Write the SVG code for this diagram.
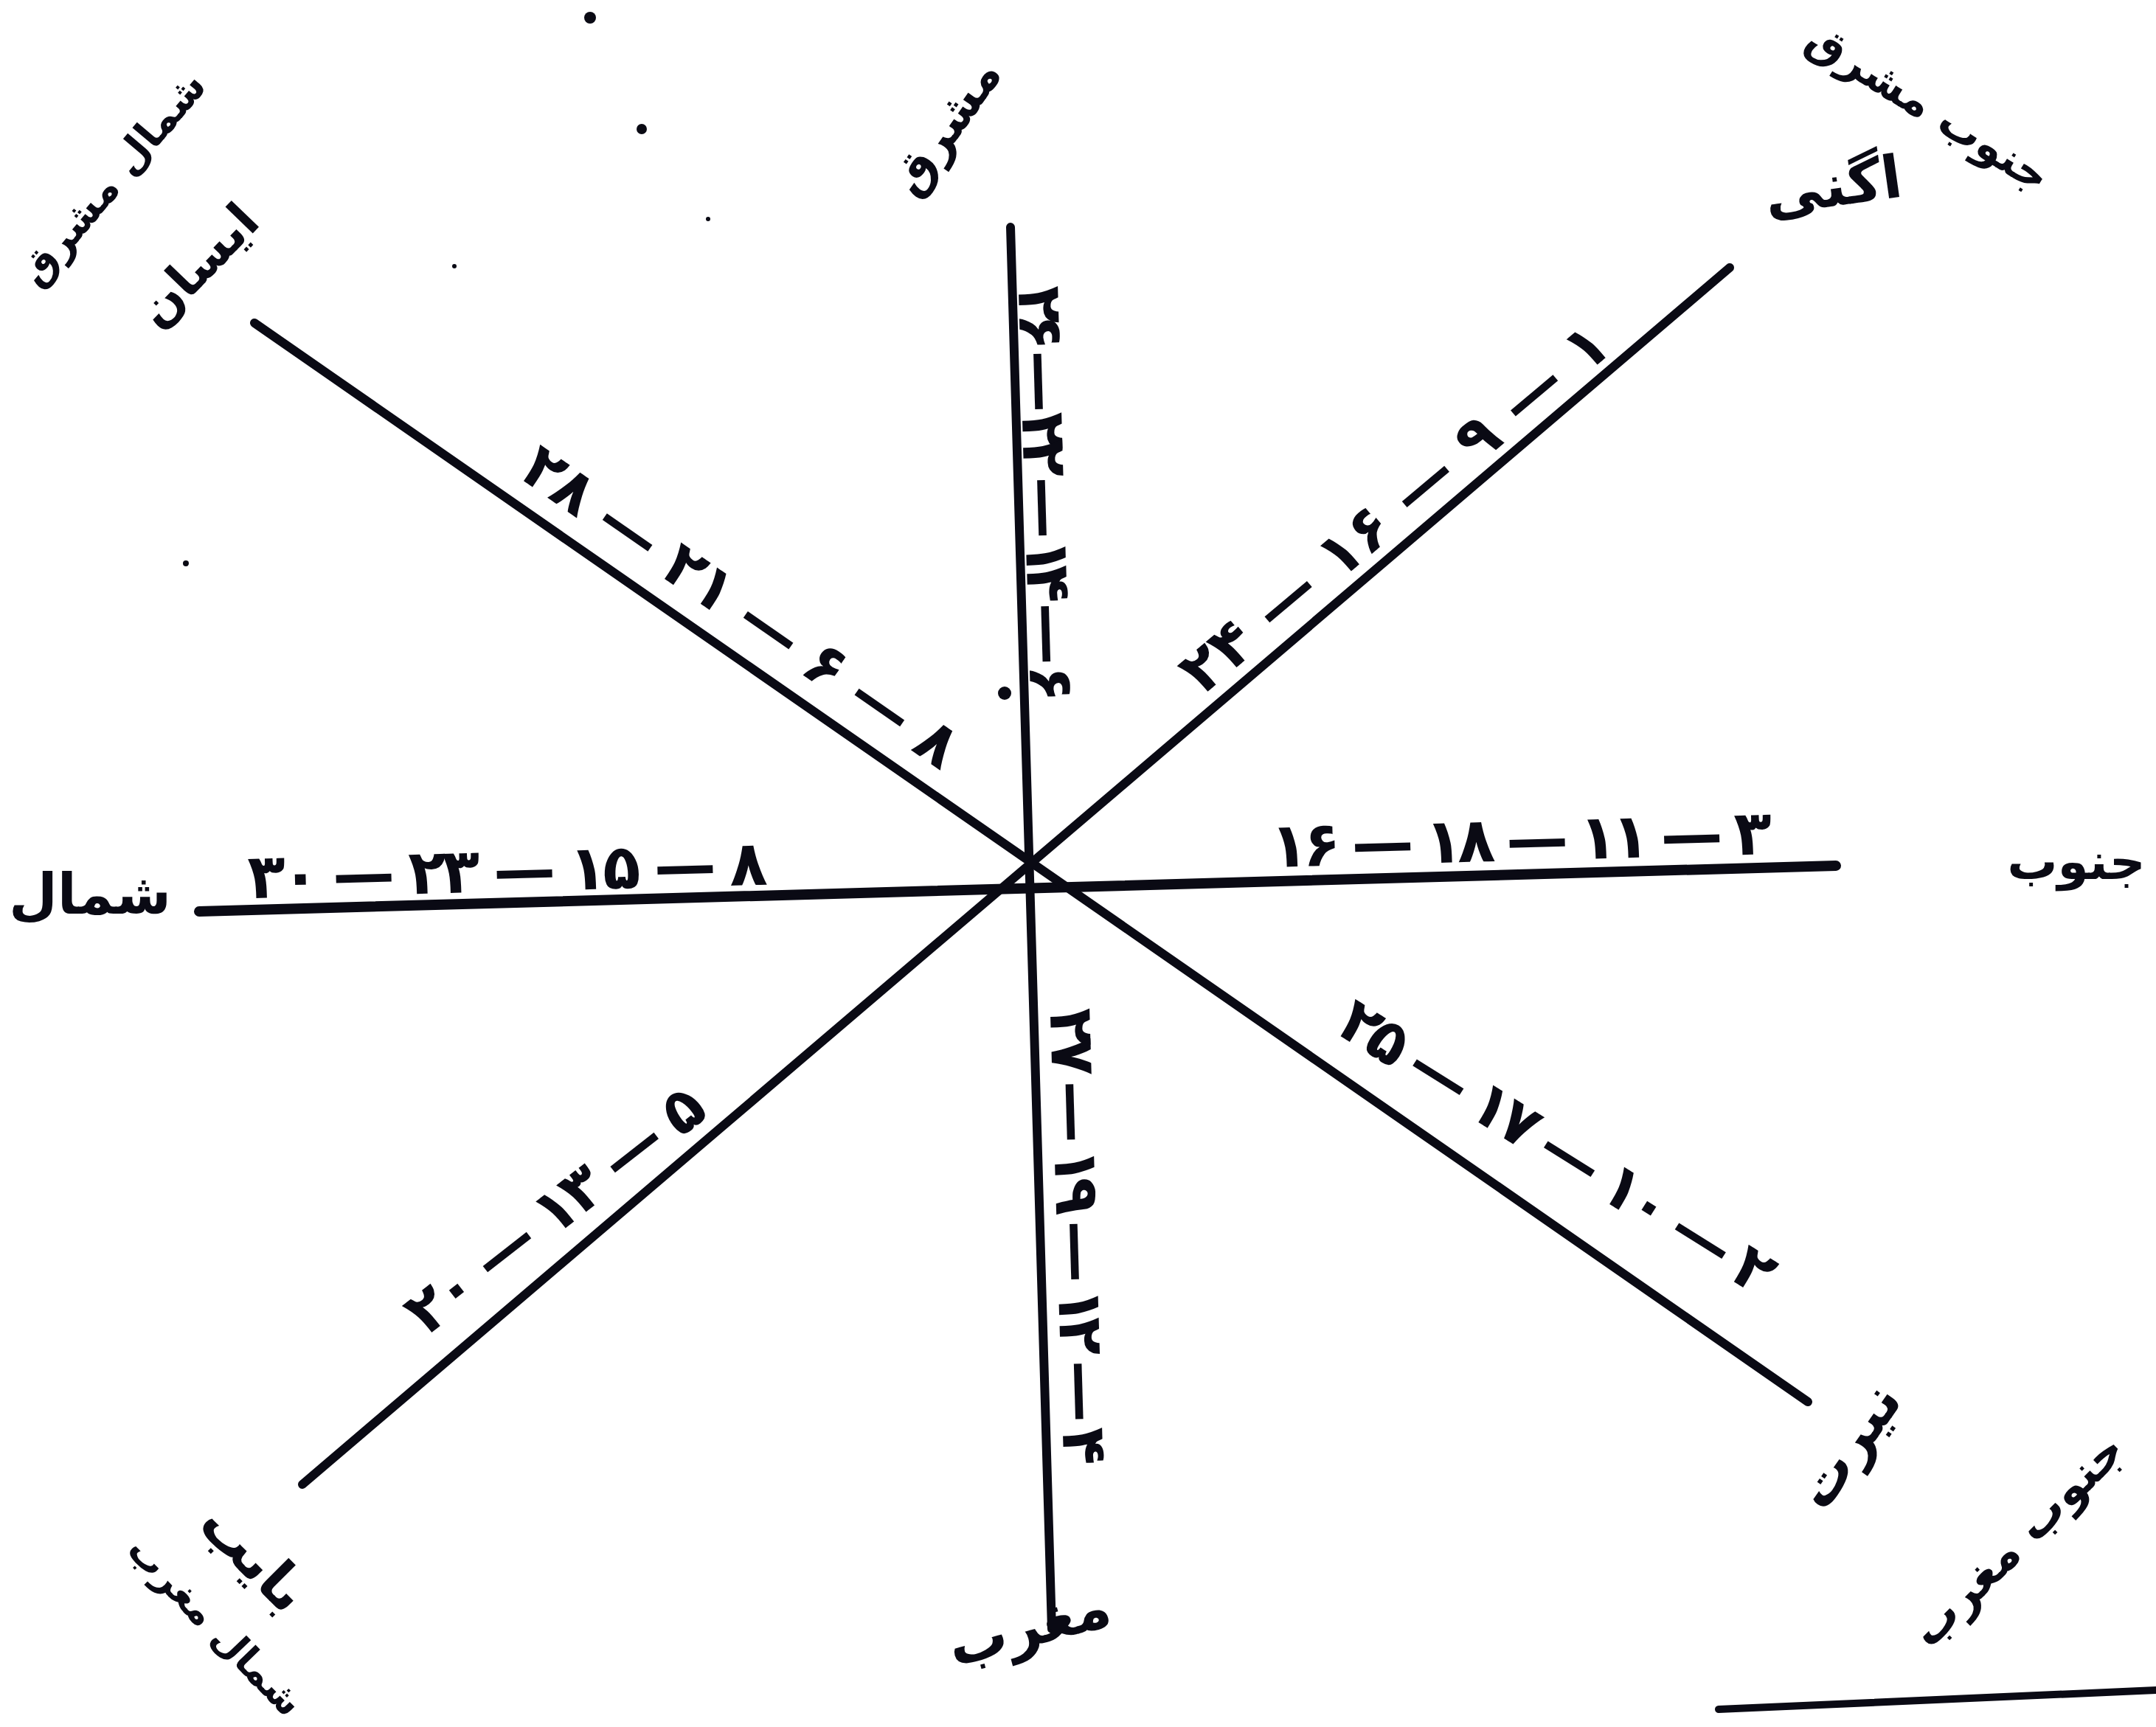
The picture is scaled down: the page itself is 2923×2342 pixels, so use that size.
<svg xmlns="http://www.w3.org/2000/svg" width="2923" height="2342" viewBox="0 0 2923 2342">
<style>
.ln{stroke:#0a0a14;stroke-width:12;stroke-linecap:round;fill:none}
.lbl{font-family:"DejaVu Sans","Noto Sans",sans-serif;font-weight:bold;fill:#0a0a14;text-anchor:middle;dominant-baseline:central}
.num{font-family:"DejaVu Sans","Noto Sans",sans-serif;font-weight:bold;fill:#0a0a14;text-anchor:middle;dominant-baseline:central;font-size:84px}
.dot{fill:#0a0a14}
</style>
<rect width="2923" height="2342" fill="#ffffff"/>
<g id="connectors">
  <line class="ln" x1="1370" y1="308" x2="1426" y2="2209"/>
  <line class="ln" x1="270" y1="1236" x2="2489" y2="1174" style="stroke-width:14"/>
  <line class="ln" x1="345" y1="438" x2="2451" y2="1901"/>
  <line class="ln" x1="410" y1="2013" x2="2345" y2="363"/>
  <line class="ln" x1="2330" y1="2318" x2="2923" y2="2292" style="stroke-width:10"/>
</g>
<g id="label-north-east">
  <text class="lbl" font-size="56" transform="translate(152,242) rotate(-50)">شمال مشرق</text>
  <text class="lbl" font-size="68" transform="translate(268,360) rotate(-46)">ایسان</text>
</g>
<g id="label-east"><text class="lbl" font-size="66" transform="translate(1282,172) rotate(-55)">مشرق</text></g>
<g id="label-south-east">
  <text class="lbl" font-size="60" transform="translate(2615,145) rotate(32)">جنوب مشرق</text>
  <text class="lbl" font-size="80" transform="translate(2485,252) rotate(-8)">اگنی</text>
</g>
<g id="label-north"><text class="lbl" font-size="76" transform="translate(122,1212)">شمال</text></g>
<g id="label-south"><text class="lbl" font-size="68" transform="translate(2815,1168)">جنوب</text></g>
<g id="label-west"><text class="lbl" font-size="80" transform="translate(1395,2205) rotate(-15)">مغرب</text></g>
<g id="label-north-west">
  <text class="lbl" font-size="78" transform="translate(345,2112) rotate(45)">بایب</text>
  <text class="lbl" font-size="52" transform="translate(292,2205) rotate(46)">شمال مغرب</text>
</g>
<g id="label-south-west">
  <text class="lbl" font-size="78" transform="translate(2505,1960) rotate(-55)">نیرت</text>
  <text class="lbl" font-size="64" transform="translate(2735,2088) rotate(-45)">جنوب مغرب</text>
</g>
<g id="nums-north-east"><text class="num" textLength="700" lengthAdjust="spacing" transform="translate(1005,822) rotate(34.8)">۲۸ — ۲۱ — ۶ — ۸</text></g>
<g id="nums-south-east"><text class="num" textLength="730" lengthAdjust="spacing" transform="translate(1890,688) rotate(-40)">۲۴ — ۱۶ — ۹ — ۱</text></g>
<g id="nums-north"><text class="num" textLength="705" lengthAdjust="spacing" transform="translate(688,1180) rotate(-1.5)">۳۰ — ۲۳ — ۱۵ — ۸</text></g>
<g id="nums-south"><text class="num" textLength="680" lengthAdjust="spacing" transform="translate(2062,1138) rotate(-1.5)">۱۶ — ۱۸ — ۱۱ — ۳</text></g>
<g id="nums-south-west"><text class="num" textLength="680" lengthAdjust="spacing" transform="translate(2112,1555) rotate(32)">۲۵ — ۱۷ — ۱۰ — ۲</text></g>
<g id="nums-north-west"><text class="num" textLength="490" lengthAdjust="spacing" transform="translate(752,1640) rotate(-38)">۲۰ — ۱۳ — ۵</text></g>
<g id="nums-east"><text class="num" textLength="565" lengthAdjust="spacing" transform="translate(1418,670) rotate(88.3)">۲۶ — ۲۲ — ۱۴ — ۶</text></g>
<g id="nums-west"><text class="num" textLength="620" lengthAdjust="spacing" transform="translate(1462,1677) rotate(88.3)">۲۷ — ۱۹ — ۱۲ — ۴</text></g>
<g id="specks">
  <circle class="dot" cx="800" cy="24" r="8"/>
  <circle class="dot" cx="870" cy="175" r="7"/>
  <circle class="dot" cx="1362" cy="940" r="9"/>
  <circle class="dot" cx="252" cy="764" r="4"/>
  <circle class="dot" cx="960" cy="297" r="3"/>
  <circle class="dot" cx="616" cy="361" r="3"/>
</g>
</svg>
